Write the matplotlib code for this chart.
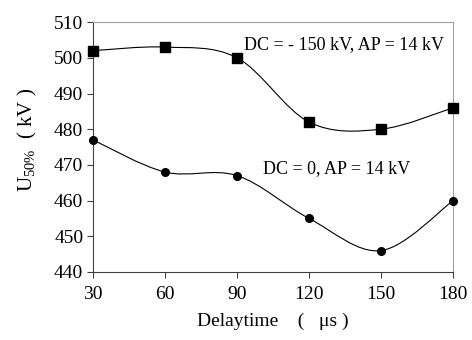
import numpy as np
import matplotlib
matplotlib.use("Agg")
import matplotlib.pyplot as plt
from matplotlib.path import Path
from matplotlib.patches import PathPatch

delay = [30, 60, 90, 120, 150, 180]
u_dc150 = [502, 503, 500, 482, 480, 486]
u_dc0 = [477, 468, 467, 455, 446, 460]
xticks = [30, 60, 90, 120, 150, 180]
yticks = [440, 450, 460, 470, 480, 490, 500, 510]

plt.rcParams['font.family'] = ['Liberation Serif', 'DejaVu Serif']
plt.rcParams['mathtext.fontset'] = 'custom'
plt.rcParams['mathtext.rm'] = 'Liberation Serif'

fig = plt.figure(figsize=(4.72, 3.40), dpi=100)
ax = fig.add_axes([0.197, 0.2, 0.763, 0.735])


def smooth_path(xs, ys):
    pts = np.column_stack([xs, ys]).astype(float)
    n = len(pts)
    verts = [pts[0]]
    codes = [Path.MOVETO]
    for i in range(n - 1):
        p0 = pts[i - 1] if i > 0 else pts[i]
        p1 = pts[i]
        p2 = pts[i + 1]
        p3 = pts[i + 2] if i + 2 < n else pts[i + 1]
        c1 = p1 + (p2 - p0) / 6.0
        c2 = p2 - (p3 - p1) / 6.0
        verts += [c1, c2, p2]
        codes += [Path.CURVE4] * 3
    return Path(verts, codes)


for ys, mk, ms in [(u_dc150, 's', 6.5), (u_dc0, 'o', 5.5)]:
    ax.add_patch(PathPatch(smooth_path(delay, ys), facecolor='none',
                           edgecolor='black', lw=0.8, zorder=2))
    ax.plot(delay, ys, linestyle='none', marker=mk, ms=ms, color='black',
            zorder=3, clip_on=False)

ax.text(92.9, 503.8, "DC = - 150 kV, AP = 14 kV", fontsize=13, ha='left', va='center')
ax.text(100.8, 469.1, "DC = 0, AP = 14 kV", fontsize=13, ha='left', va='center')

ax.set_xlim(30, 180)
ax.set_ylim(440, 510)
ax.set_xticks(xticks)
ax.set_yticks(yticks)
ax.tick_params(axis='both', direction='out', length=4, width=0.8, labelsize=14,
               color='#404040')
ax.tick_params(axis='x', pad=6)
ax.tick_params(axis='y', pad=3)
for s in ['left', 'bottom']:
    ax.spines[s].set_color('#404040')
    ax.spines[s].set_linewidth(0.8)
for s in ['top', 'right']:
    ax.spines[s].set_color('#a0a0a0')
    ax.spines[s].set_linewidth(0.8)

ax.set_xlabel("Delaytime    (   μs )", fontsize=14, labelpad=7)
ax.set_ylabel(r"U$_{\mathrm{50\%}}$  ( kV )", fontsize=15)
ax.yaxis.set_label_coords(-0.15, 0.528)

fig.savefig("out.png", dpi=100)
